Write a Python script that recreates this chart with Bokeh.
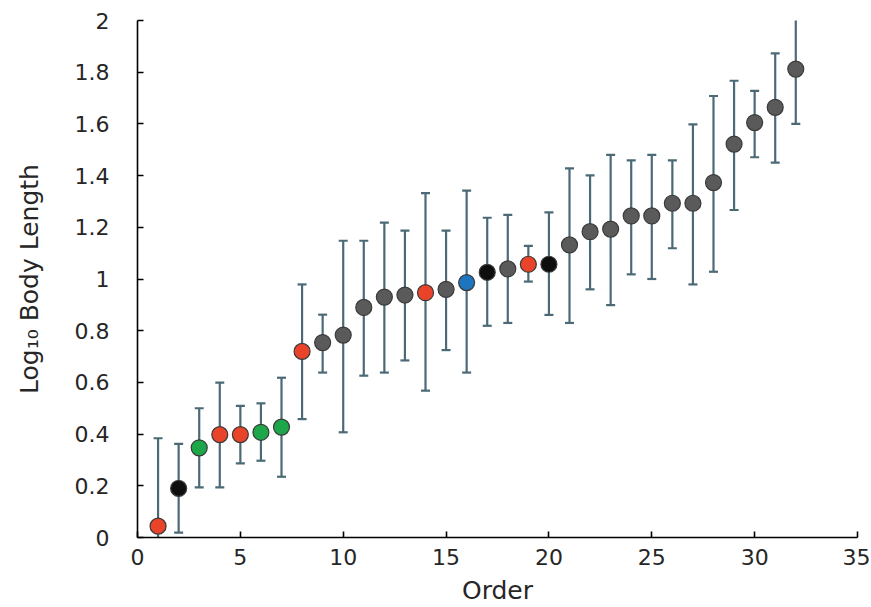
from bokeh.plotting import figure
from bokeh.models import ColumnDataSource, FixedTicker, Range1d
from bokeh.embed import file_html
from bokeh.resources import INLINE

# ---- data ----
order = list(range(1, 33))
mean = [0.044, 0.190, 0.347, 0.398, 0.398, 0.407, 0.427, 0.720, 0.754, 0.783,
        0.890, 0.930, 0.938, 0.947, 0.960, 0.986, 1.026, 1.039, 1.057, 1.057,
        1.132, 1.183, 1.193, 1.244, 1.244, 1.293, 1.293, 1.373, 1.522, 1.605,
        1.664, 1.812]
upper = [0.384, 0.362, 0.500, 0.599, 0.509, 0.519, 0.618, 0.979, 0.862, 1.148,
         1.148, 1.218, 1.187, 1.332, 1.187, 1.342, 1.237, 1.248, 1.128, 1.258,
         1.428, 1.401, 1.480, 1.459, 1.480, 1.459, 1.598, 1.708, 1.767, 1.728,
         1.873, 2.030]
lower = [-0.30, 0.019, 0.194, 0.194, 0.287, 0.297, 0.235, 0.458, 0.638, 0.407,
         0.626, 0.638, 0.685, 0.568, 0.725, 0.638, 0.819, 0.830, 0.990, 0.861,
         0.830, 0.960, 0.899, 1.018, 1.000, 1.119, 0.979, 1.028, 1.267, 1.471,
         1.450, 1.600]
group = ["red", "black", "green", "red", "red", "green", "green", "red",
         "gray", "gray", "gray", "gray", "gray", "red", "gray", "blue",
         "black", "gray", "red", "black", "gray", "gray", "gray", "gray",
         "gray", "gray", "gray", "gray", "gray", "gray", "gray", "gray"]
x_ticks = [0, 5, 10, 15, 20, 25, 30, 35]
y_ticks = [0, 0.2, 0.4, 0.6, 0.8, 1.0, 1.2, 1.4, 1.6, 1.8, 2.0]
y_tick_labels = {0: "0", 0.2: "0.2", 0.4: "0.4", 0.6: "0.6", 0.8: "0.8", 1: "1",
                 1.2: "1.2", 1.4: "1.4", 1.6: "1.6", 1.8: "1.8", 2: "2"}

palette = {"red": "#E9432A", "black": "#0E0E0E", "green": "#1DA64A",
           "gray": "#5A5A5A", "blue": "#1E74BE"}

src = ColumnDataSource(dict(x=order, y=mean, hi=upper, lo=lower,
                            c=[palette[g] for g in group]))

FONT = "DejaVu Sans"
TXT = "#262626"
BAR = "#4B6A76"

p = figure(width=870, height=607, output_backend="svg", toolbar_location=None,
           x_range=Range1d(0, 35), y_range=Range1d(0, 2),
           min_border_left=137, min_border_right=13, min_border_top=20,
           min_border_bottom=70)
p.outline_line_color = None
p.grid.grid_line_color = None

p.segment(x0="x", y0="lo", x1="x", y1="hi", source=src, line_color=BAR, line_width=2.2)
p.scatter(x="x", y="hi", source=src, marker="dash", size=9, line_color=BAR, line_width=2.2)
p.scatter(x="x", y="lo", source=src, marker="dash", size=9, line_color=BAR, line_width=2.2)
p.scatter(x="x", y="y", source=src, marker="circle", size=16, fill_color="c",
          line_color="#3A3A3A", line_width=1.2)

for ax in (p.xaxis[0], p.yaxis[0]):
    ax.axis_line_color = "black"
    ax.axis_line_width = 1.6
    ax.major_tick_line_color = "black"
    ax.major_tick_line_width = 1.6
    ax.major_tick_in = 6
    ax.major_tick_out = 0
    ax.minor_tick_line_color = None
    ax.major_label_text_font = FONT
    ax.major_label_text_color = TXT
    ax.major_label_text_font_size = "22px"
    ax.axis_label_text_font = FONT
    ax.axis_label_text_color = TXT
    ax.axis_label_text_font_size = "25px"
    ax.axis_label_text_font_style = "normal"

p.xaxis.ticker = FixedTicker(ticks=x_ticks)
p.xaxis.major_label_standoff = 11
p.xaxis.axis_label = "Order"
p.xaxis.axis_label_standoff = 8

p.yaxis.ticker = FixedTicker(ticks=y_ticks)
p.yaxis.major_label_overrides = y_tick_labels
p.yaxis.major_label_standoff = 28
p.yaxis.axis_label = "Log\u2081\u2080 Body Length"
p.yaxis.axis_label_standoff = 28

open("out.html", "w").write(file_html(p, INLINE))
